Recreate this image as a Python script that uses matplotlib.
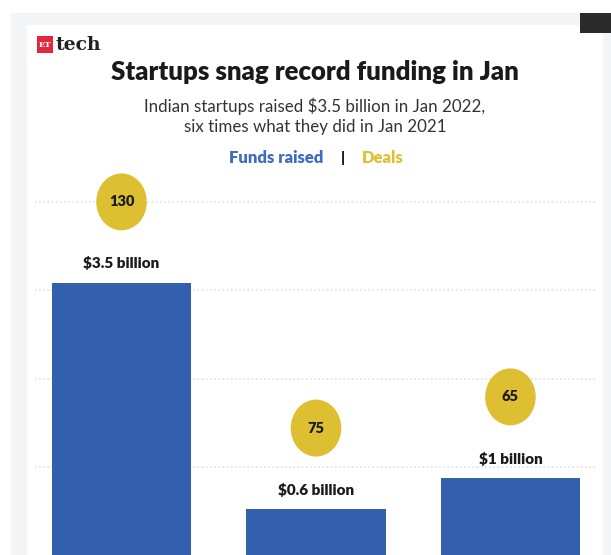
import matplotlib.pyplot as plt
from matplotlib.patches import Rectangle, Ellipse
import numpy as np

# Jan funding: three periods, funds in $ billion and number of deals
periods = ["Jan 2022", "Dec 2021", "Jan 2021"]
funds = [3.5, 0.6, 1.0]
fund_labels = ["$3.5 billion", "$0.6 billion", "$1 billion"]
deals = [130, 75, 65]

BLUE = "#325fae"
GOLD = "#dfbf32"

plt.rcParams['font.family'] = ['Lato', 'DejaVu Sans']

fig = plt.figure(figsize=(6.11, 5.55), dpi=100)
fig.patch.set_facecolor("white")

# card background
fig.add_artist(Rectangle((11/611, 0), 600/611, 1 - 13/555, transform=fig.transFigure,
                         facecolor="#f3f4f5", edgecolor="none", zorder=0))
fig.add_artist(Rectangle((27/611, 0), 576/611, 1 - 25/555, transform=fig.transFigure,
                         facecolor="white", edgecolor="none", zorder=0))
fig.add_artist(Rectangle((580/611, 1 - 33/555), 31/611, 20/555, transform=fig.transFigure,
                         facecolor="#2b2b2b", edgecolor="none", zorder=1))

# logo
fig.add_artist(Rectangle((37/611, 1 - 53/555), 16/611, 17/555, transform=fig.transFigure,
                         facecolor="#e0283a", edgecolor="none", zorder=2))
fig.text(45/611, 1 - 45/555, "ET", color="white", fontsize=6, ha="center", va="center",
         family="DejaVu Serif", weight="bold")
fig.text(55/611, 1 - 45/555, "tech", color="#222222", fontsize=13.5, ha="left", va="center",
         family="DejaVu Serif", weight="bold")

fig.text(315/611, 1 - 72/555, "Startups snag record funding in Jan", fontsize=18.5,
         weight="heavy", ha="center", va="center", color="#1a1a1a")
fig.text(315/611, 1 - 106/555, "Indian startups raised $3.5 billion in Jan 2022,",
         fontsize=12.2, ha="center", va="center", color="#333333")
fig.text(315/611, 1 - 127/555, "six times what they did in Jan 2021",
         fontsize=12.2, ha="center", va="center", color="#333333")
fig.text(323/611, 1 - 158/555, "Funds raised", fontsize=12, weight="heavy",
         ha="right", va="center", color="#3d6cc0")
fig.text(343/611, 1 - 158/555, "|", fontsize=11, weight="heavy",
         ha="center", va="center", color="#1a1a1a")
fig.text(362/611, 1 - 158/555, "Deals", fontsize=12, weight="heavy",
         ha="left", va="center", color="#e0c030")

ax = fig.add_axes([35/611, -1/555, 562/611, 390/555])
ax.set_facecolor("none")
x = np.arange(len(periods))
ax.bar(x, funds, width=0.715, color=BLUE, zorder=3)

for xi, v, lab, d in zip(x, funds, fund_labels, deals):
    ax.annotate(lab, (xi, v), xytext=(0, 9), textcoords="offset points",
                ha="center", va="bottom", fontsize=11, weight="heavy", color="#1a1a1a")
    cy = v + 1.04
    ax.add_patch(Ellipse((xi, cy), 0.26, 0.73, facecolor=GOLD, edgecolor="none", zorder=4))
    ax.text(xi, cy, str(d), ha="center", va="center", fontsize=10.5, weight="heavy",
            color="#1a1a1a", zorder=5)

ax.set_xlim(-0.445, 2.445)
ax.set_ylim(0, 5.0)
ax.set_yticks(np.arange(1, 5) * 1.135)
ax.grid(axis="y", linestyle=(0, (1, 1.5)), color="#e0e0e0", linewidth=1.2, zorder=0)
ax.tick_params(left=False, bottom=False, labelleft=False, labelbottom=False)
for s in ax.spines.values():
    s.set_visible(False)

fig.savefig("out.png", dpi=100)
